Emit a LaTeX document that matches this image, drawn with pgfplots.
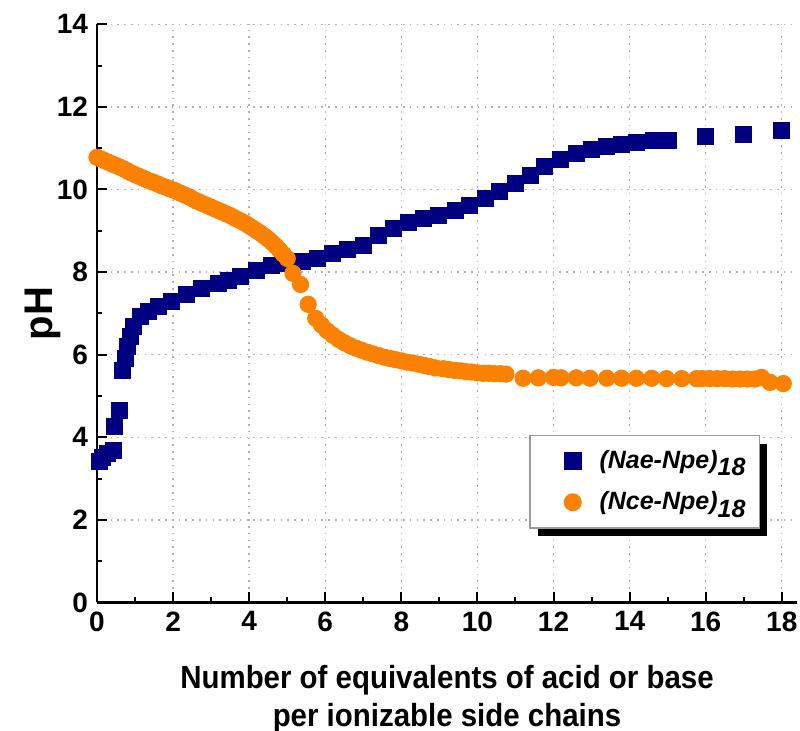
\documentclass[border=0pt]{standalone}
\usepackage{fontspec}
\setmainfont{Liberation Sans}
\newfontfamily\condfont[FakeStretch=0.92]{Liberation Sans}
\usepackage{pgfplots}
\pgfplotsset{compat=1.18}
\usetikzlibrary{shadows}
\definecolor{navyb}{RGB}{0,0,128}
\definecolor{orng}{RGB}{250,130,0}
\pgfplotsset{myleg/.style={legend image code/.code={\path (0pt,0pt) (27pt,0pt); \draw[##1] plot coordinates {(16pt,0pt)};}}}
\begin{document}
\begin{tikzpicture}
\begin{axis}[
  scale only axis,
  width=350pt, height=289.1pt,
  xmin=0, xmax=18.4, ymin=0, ymax=14,
  axis lines=left,
  axis line style={-, line width=1.2pt},
  tick align=inside,
  major tick length=5pt, minor tick length=2.5pt,
  every tick/.style={black, line width=1pt},
  xtick={0,2,...,18}, ytick={0,2,...,14},
  minor x tick num=1, minor y tick num=1,
  grid=major,
  major grid style={gray!60, line width=0.7pt, dash pattern=on 0.8pt off 2.6pt},
  /pgf/number format/assume math mode=true,
  ticklabel style={font=\fontsize{14}{16}\selectfont\bfseries},
  xticklabel style={yshift=-1pt},
  yticklabel style={xshift=-1pt},
  xlabel={Number of equivalents of acid or base\\per ionizable side chains},
  xlabel style={align=center, font=\condfont\fontsize{16}{19}\selectfont\bfseries, yshift=-10pt},
  ylabel={pH},
  ylabel style={font=\fontsize{20}{22}\selectfont\bfseries, yshift=-9pt},
  legend style={at={(axis cs:11.36,4.06)}, anchor=north west,
    draw=gray!80, line width=0.8pt, fill=white,
    drop shadow={shadow xshift=4pt, shadow yshift=-4pt, fill=black, opacity=1},
    font=\fontsize{12.5}{14}\selectfont\bfseries\itshape,
    inner xsep=5pt, inner ysep=5.5pt, row sep=6pt},
  legend cell align=left,
  clip=false,
]
\coordinate (O) at (axis cs:0,0);
\addplot[only marks, mark=square*, mark size=4pt, mark options={fill=navyb, draw=navyb}, myleg] coordinates {
(0.05,3.42) (0.15,3.52) (0.28,3.62) (0.42,3.68) (0.47,4.27) (0.59,4.66)
(0.67,5.61) (0.74,5.91) (0.80,6.19) (0.87,6.44) (0.95,6.68) (1.13,6.92)
(1.35,7.04) (1.61,7.16) (1.96,7.28) (2.36,7.45) (2.75,7.61) (3.19,7.73)
(3.45,7.81) (3.76,7.89) (4.2,8.05) (4.59,8.15) (4.99,8.22) (5.39,8.27)
(5.79,8.33) (6.19,8.45) (6.59,8.55) (6.99,8.65) (7.39,8.88) (7.79,9.05)
(8.18,9.2) (8.58,9.3) (8.97,9.38) (9.41,9.5) (9.8,9.62) (10.2,9.79)
(10.59,9.95) (10.99,10.15) (11.38,10.35) (11.77,10.56) (12.17,10.72)
(12.61,10.88) (13.0,10.96) (13.4,11.04) (13.79,11.1) (14.18,11.13)
(14.62,11.18) (15.01,11.2) (16.0,11.28) (17.0,11.34) (18.0,11.42)
};
\addlegendentry{(Nae-Npe)\raisebox{-0.55ex}{18}}
\addplot[only marks, mark=*, mark size=4.1pt, mark options={fill=orng, draw=orng}, myleg] coordinates {
(0.0,10.78) (0.1,10.74) (0.2,10.70) (0.3,10.66) (0.4,10.62) (0.5,10.58)
(0.6,10.54) (0.7,10.50) (0.8,10.45) (0.9,10.40) (1.0,10.36) (1.1,10.32)
(1.2,10.28) (1.3,10.24) (1.4,10.20) (1.5,10.17) (1.6,10.13) (1.7,10.09)
(1.8,10.06) (1.9,10.02) (2.0,9.99) (2.1,9.95) (2.2,9.91) (2.3,9.87)
(2.4,9.83) (2.5,9.78) (2.6,9.73) (2.7,9.69) (2.8,9.65) (2.9,9.61)
(3.0,9.57) (3.1,9.53) (3.2,9.49) (3.3,9.45) (3.4,9.41) (3.5,9.37)
(3.6,9.32) (3.7,9.27) (3.8,9.23) (3.9,9.18) (4.0,9.12) (4.1,9.06)
(4.2,9.00) (4.3,8.94) (4.4,8.87) (4.5,8.80) (4.6,8.72) (4.7,8.63)
(4.8,8.53) (4.9,8.43) (5.0,8.33) (5.15,7.97) (5.35,7.70) (5.55,7.22)
(5.75,6.88) (5.9,6.72) (6.05,6.58) (6.2,6.47) (6.35,6.37) (6.5,6.29)
(6.65,6.22) (6.8,6.16) (6.95,6.11) (7.1,6.06) (7.25,6.02) (7.4,5.98)
(7.55,5.94) (7.7,5.91) (7.85,5.88) (8.0,5.85) (8.15,5.82) (8.3,5.80)
(8.45,5.77) (8.6,5.74) (8.75,5.71) (8.9,5.68) (9.1,5.66) (9.25,5.64)
(9.4,5.62) (9.55,5.61) (9.7,5.59) (9.85,5.58) (10.0,5.56) (10.15,5.55)
(10.3,5.55) (10.45,5.54) (10.6,5.54) (10.75,5.53) (11.2,5.43) (11.6,5.44)
(12.0,5.45) (12.2,5.44) (12.6,5.44) (12.96,5.43) (13.4,5.43) (13.79,5.43)
(14.18,5.43) (14.58,5.43) (14.97,5.42) (15.37,5.42) (15.76,5.42) (15.9,5.42)
(16.1,5.42) (16.3,5.42) (16.5,5.42) (16.7,5.41) (16.9,5.41) (17.1,5.41)
(17.3,5.41) (17.47,5.45) (17.69,5.33) (18.04,5.30)
};
\addlegendentry{(Nce-Npe)\raisebox{-0.55ex}{18}}
\end{axis}
\pgfresetboundingbox
\path[use as bounding box] ([shift={(-48.5pt,-64.25pt)}]O) rectangle ([shift={(351.5pt,301.25pt)}]O);
\end{tikzpicture}
\end{document}
